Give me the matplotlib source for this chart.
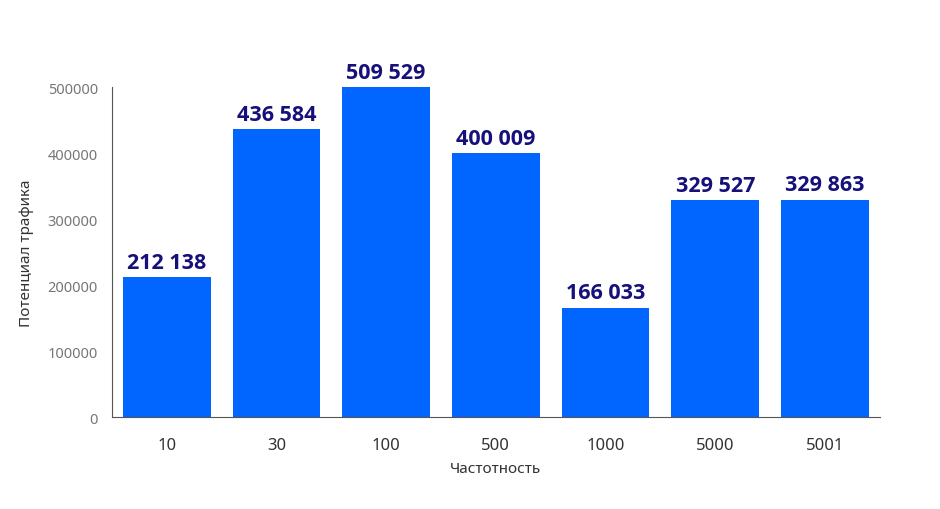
import matplotlib
matplotlib.use('Agg')
import matplotlib.pyplot as plt

# данные
categories = ['10', '30', '100', '500', '1000', '5000', '5001']
traffic = [212138, 436584, 509529, 400009, 166033, 329527, 329863]
y_ticks = [0, 100000, 200000, 300000, 400000, 500000]

plt.rcParams['font.family'] = ['Noto Sans', 'DejaVu Sans']

fig = plt.figure(figsize=(9.4, 5.1), dpi=100)
ax = fig.add_axes([0.119, 0.180, 0.817, 0.647])

x = range(len(categories))
ax.bar(x, traffic, width=0.8, color='#0066FF')
ax.set_xlim(-0.5, 6.5)
ax.set_ylim(0, 500000)

# подписи над столбцами (столбец выше оси обрезается)
for i, v in enumerate(traffic):
    top = min(v, 500000)
    ax.annotate(f'{v:,}'.replace(',', ' '), (i, top), xytext=(0, 3),
                textcoords='offset points', ha='center', va='bottom',
                fontsize=15.5, fontweight='bold', color='#15107A',
                family=['Open Sans', 'DejaVu Sans'])

ax.set_xticks(list(x))
ax.set_xticklabels(categories, fontsize=12, color='#333333')
ax.set_yticks(y_ticks)
ax.set_yticklabels([str(t) for t in y_ticks], fontsize=10.5, color='#777777')
ax.tick_params(length=0)
ax.tick_params(axis='x', pad=14)
ax.tick_params(axis='y', pad=10)

ax.set_xlabel('Частотность', fontsize=11, color='#333333', labelpad=6)
ax.set_ylabel('Потенциал трафика', fontsize=11, color='#333333', labelpad=10)

for s in ['top', 'right']:
    ax.spines[s].set_visible(False)
ax.spines['left'].set_color('#555555')
ax.spines['bottom'].set_color('#555555')

fig.savefig('out.png', dpi=100)
